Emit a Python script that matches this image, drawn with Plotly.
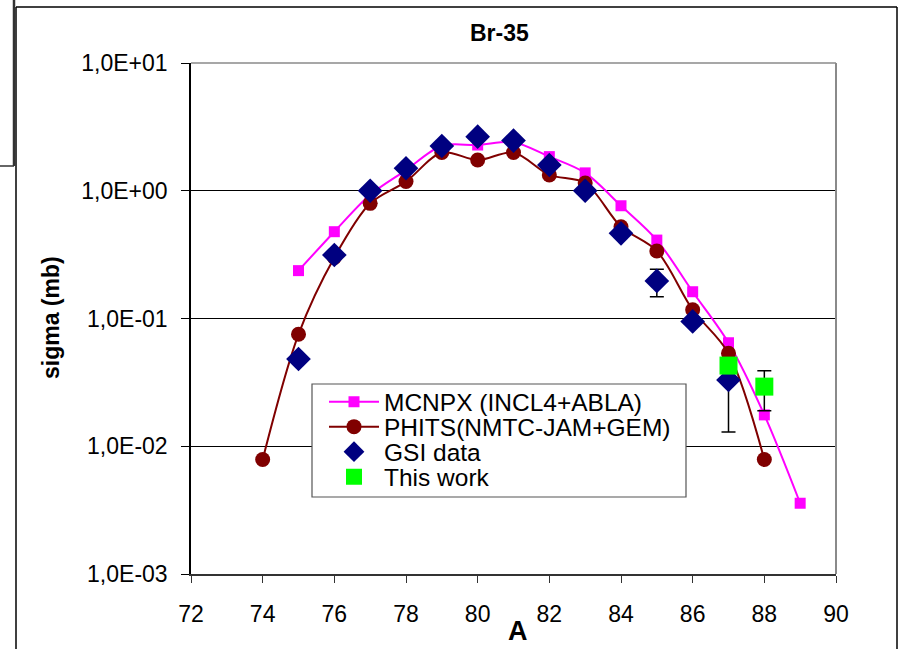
import plotly.graph_objects as go

# ---------------- data ----------------
A_mcnpx = [75, 76, 77, 78, 79, 80, 81, 82, 83, 84, 85, 86, 87, 88, 89]
sigma_mcnpx = [0.237, 0.478, 0.93, 1.45, 2.25, 2.28, 2.40, 1.85, 1.38, 0.763,
               0.411, 0.162, 0.0646, 0.0176, 0.00358]

A_phits = [74, 75, 76, 77, 78, 79, 80, 81, 82, 83, 84, 85, 86, 87, 88]
sigma_phits = [0.00787, 0.0752, 0.30, 0.797, 1.18, 1.99, 1.74, 1.99, 1.33,
               1.15, 0.523, 0.338, 0.117, 0.0534, 0.00787]

A_gsi = [75, 76, 77, 78, 79, 80, 81, 82, 83, 84, 85, 86, 87]
sigma_gsi = [0.0482, 0.314, 1.0, 1.5, 2.24, 2.65, 2.47, 1.59, 1.0, 0.464,
             0.197, 0.0948, 0.033]
gsi_err_plus = [0, 0, 0, 0, 0, 0, 0, 0, 0, 0, 0.046, 0, 0.012]
gsi_err_minus = [0, 0, 0, 0, 0, 0, 0, 0, 0, 0, 0.049, 0, 0.0201]

A_this = [87, 88]
sigma_this = [0.0428, 0.0293]
this_err_plus = [0, 0.0097]
this_err_minus = [0, 0.0103]

y_tick_vals = [1e-3, 1e-2, 1e-1, 1e0, 1e1]
y_tick_text = ["1,0E-03", "1,0E-02", "1,0E-01", "1,0E+00", "1,0E+01"]
x_tick_vals = [72, 74, 76, 78, 80, 82, 84, 86, 88, 90]

names = ["MCNPX (INCL4+ABLA)", "PHITS(NMTC-JAM+GEM)", "GSI data", "This work"]

# ---------------- layout geometry (pixels) ----------------
W, H = 903, 649
L, R, T, B = 191, 836, 63, 574


def px(x):
    return (x - L) / (R - L)


def py(y):
    return (B - y) / (B - T)


FONT = "Liberation Sans, Arial, sans-serif"

fig = go.Figure()

fig.add_trace(go.Scatter(
    x=A_mcnpx, y=sigma_mcnpx, name=names[0], mode="lines+markers",
    line=dict(color="#FF00FF", width=2, shape="spline", smoothing=0.9),
    marker=dict(symbol="square", size=11, color="#FF00FF"),
    legend="legend"))

fig.add_trace(go.Scatter(
    x=A_phits, y=sigma_phits, name=names[1], mode="lines+markers",
    line=dict(color="#800000", width=2, shape="spline", smoothing=0.9),
    marker=dict(symbol="circle", size=15, color="#800000"),
    legend="legend2"))

fig.add_trace(go.Scatter(
    x=A_gsi, y=sigma_gsi, name=names[2], mode="markers",
    marker=dict(symbol="diamond", size=19, color="#000080"),
    error_y=dict(type="data", symmetric=False, array=gsi_err_plus,
                 arrayminus=gsi_err_minus, color="black", thickness=1.5, width=7),
    legend="legend3"))

fig.add_trace(go.Scatter(
    x=A_this, y=sigma_this, name=names[3], mode="markers",
    marker=dict(symbol="square", size=18, color="#00FF00"),
    error_y=dict(type="data", symmetric=False, array=this_err_plus,
                 arrayminus=this_err_minus, color="black", thickness=1.5, width=7),
    legend="legend4"))

shapes = []
# plot-area border (top & right, gray)
shapes.append(dict(type="line", xref="paper", yref="paper", x0=0, x1=1, y0=1, y1=1,
                   line=dict(color="#8a8a8a", width=1.5)))
shapes.append(dict(type="line", xref="paper", yref="paper", x0=1, x1=1, y0=0, y1=1,
                   line=dict(color="#8a8a8a", width=2)))
# outer chart frame
shapes.append(dict(type="line", xref="paper", yref="paper", x0=px(16), x1=px(16),
                   y0=py(7), y1=py(H + 5), line=dict(color="black", width=1.5)))
shapes.append(dict(type="line", xref="paper", yref="paper", x0=px(16), x1=px(897),
                   y0=py(7), y1=py(7), line=dict(color="black", width=1.5)))
shapes.append(dict(type="line", xref="paper", yref="paper", x0=px(897), x1=px(897),
                   y0=py(7), y1=py(H + 5), line=dict(color="black", width=1.5)))
# stray frame at top-left
shapes.append(dict(type="line", xref="paper", yref="paper", x0=px(14), x1=px(14),
                   y0=py(-2), y1=py(166), line=dict(color="#333333", width=2.5)))
shapes.append(dict(type="line", xref="paper", yref="paper", x0=px(-2), x1=px(14),
                   y0=py(166), y1=py(166), line=dict(color="#333333", width=1.5)))
# legend box
shapes.append(dict(type="rect", xref="paper", yref="paper", x0=px(312), x1=px(686),
                   y0=py(497), y1=py(384), line=dict(color="#555555", width=1.2),
                   fillcolor="white", layer="above"))

annotations = [
    dict(text="<b>Br-35</b>", xref="paper", yref="paper", x=px(499), y=py(33),
         xanchor="center", yanchor="middle", showarrow=False,
         font=dict(family=FONT, size=23, color="black")),
    dict(text="<b>sigma (mb)</b>", xref="paper", yref="paper", x=px(51), y=py(318),
         xanchor="center", yanchor="middle", showarrow=False, textangle=-90,
         font=dict(family=FONT, size=23, color="black")),
    dict(text="<b>A</b>", xref="paper", yref="paper", x=px(518), y=py(631),
         xanchor="center", yanchor="middle", showarrow=False,
         font=dict(family=FONT, size=27, color="black")),
]

leg_common = dict(xanchor="left", yanchor="middle", bgcolor="rgba(0,0,0,0)",
                  borderwidth=0, font=dict(family=FONT, size=24.5, color="black"),
                  itemwidth=50, itemclick=False, itemdoubleclick=False)
row_y = [401.7, 426.7, 451.7, 476.7]
leg_x = 324

fig.update_layout(
    width=W, height=H,
    margin=dict(l=L, r=W - R, t=T, b=H - B, pad=0),
    paper_bgcolor="white", plot_bgcolor="white",
    showlegend=True,
    legend=dict(x=px(leg_x), y=py(row_y[0]), **leg_common),
    legend2=dict(x=px(leg_x), y=py(row_y[1]), **leg_common),
    legend3=dict(x=px(leg_x), y=py(row_y[2]), **leg_common),
    legend4=dict(x=px(leg_x), y=py(row_y[3]), **leg_common),
    shapes=shapes,
    annotations=annotations,
    font=dict(family=FONT, size=23, color="black"),
)

fig.update_xaxes(
    range=[72, 90], tickvals=x_tick_vals, ticks="outside", ticklen=7,
    tickcolor="#333333", tickwidth=1, showline=True, linecolor="#333333",
    linewidth=1.5, showgrid=False, zeroline=False,
    tickfont=dict(family=FONT, size=23, color="black"), ticklabelstandoff=12)

fig.update_yaxes(
    type="log", range=[-3, 1], tickvals=y_tick_vals, ticktext=y_tick_text,
    ticks="outside", ticklen=8, tickcolor="black", tickwidth=1,
    showline=True, linecolor="black", linewidth=1.5,
    showgrid=True, gridcolor="black", gridwidth=1, zeroline=False,
    tickfont=dict(family=FONT, size=23, color="black"), ticklabelstandoff=9)

fig.write_html("out.html")
